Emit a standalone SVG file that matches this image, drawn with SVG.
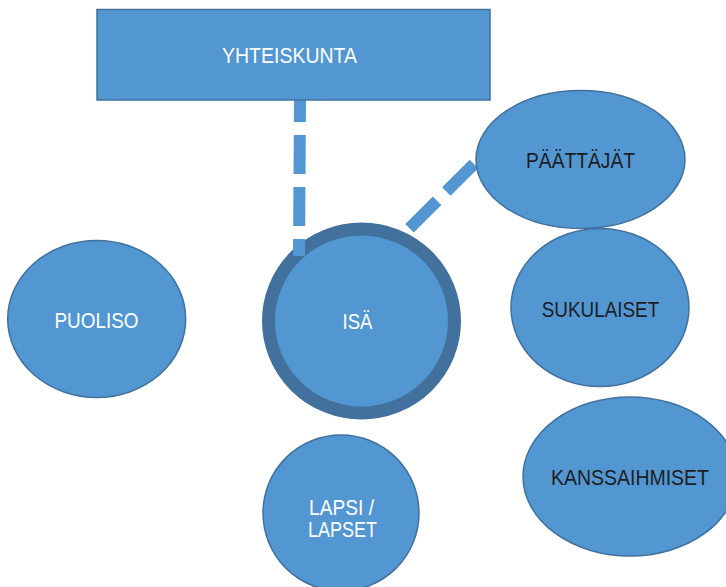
<svg xmlns="http://www.w3.org/2000/svg" width="726" height="587" viewBox="0 0 726 587">
<style>
.shape{fill:#5296D2;stroke:#41719C;stroke-width:1.5}
.ring{fill:#5296D2;stroke:#41719C;stroke-width:13}
.conn{stroke:#5296D2;stroke-width:12;fill:none;stroke-dasharray:39 13}
text{font-family:"Liberation Sans",Arial,sans-serif;font-size:21.5px;text-anchor:middle}
.w{fill:#ffffff}
.d{fill:#1e1e1e}
</style>
<rect width="726" height="587" fill="#ffffff"/>
<g id="isa">
<ellipse class="ring" cx="361.5" cy="321" rx="93" ry="92"/>
<text class="w" x="357.5" y="329" textLength="30" lengthAdjust="spacingAndGlyphs">ISÄ</text>
</g>
<g id="connectors">
<line class="conn" x1="300" y1="100" x2="299" y2="256" stroke-dashoffset="17" stroke-width="13"/>
<line class="conn" x1="409.5" y1="228.3" x2="478" y2="160"/>
</g>
<g id="yhteiskunta">
<rect class="shape" x="97" y="9.5" width="393" height="90.5"/>
<text class="w" x="289.5" y="62.5" textLength="135" lengthAdjust="spacingAndGlyphs">YHTEISKUNTA</text>
</g>
<g id="paattajat">
<ellipse class="shape" cx="580.5" cy="159.5" rx="104.5" ry="69"/>
<text class="d" x="580.5" y="168" textLength="109" lengthAdjust="spacingAndGlyphs">PÄÄTTÄJÄT</text>
</g>
<g id="puoliso">
<ellipse class="shape" cx="96.7" cy="319" rx="89" ry="78.5"/>
<text class="w" x="96.5" y="328.3" textLength="84" lengthAdjust="spacingAndGlyphs">PUOLISO</text>
</g>
<g id="sukulaiset">
<ellipse class="shape" cx="600" cy="307.5" rx="89" ry="79"/>
<text class="d" x="600.5" y="317.3" textLength="117.5" lengthAdjust="spacingAndGlyphs">SUKULAISET</text>
</g>
<g id="kanssaihmiset">
<ellipse class="shape" cx="630" cy="476.5" rx="107" ry="79.5"/>
<text class="d" x="630" y="485" textLength="158" lengthAdjust="spacingAndGlyphs">KANSSAIHMISET</text>
</g>
<g id="lapsi">
<ellipse class="shape" cx="341" cy="513" rx="78" ry="78"/>
<text class="w" x="341.5" y="515" textLength="65" lengthAdjust="spacingAndGlyphs">LAPSI /</text>
<text class="w" x="342.5" y="537" textLength="69" lengthAdjust="spacingAndGlyphs">LAPSET</text>
</g>
</svg>
